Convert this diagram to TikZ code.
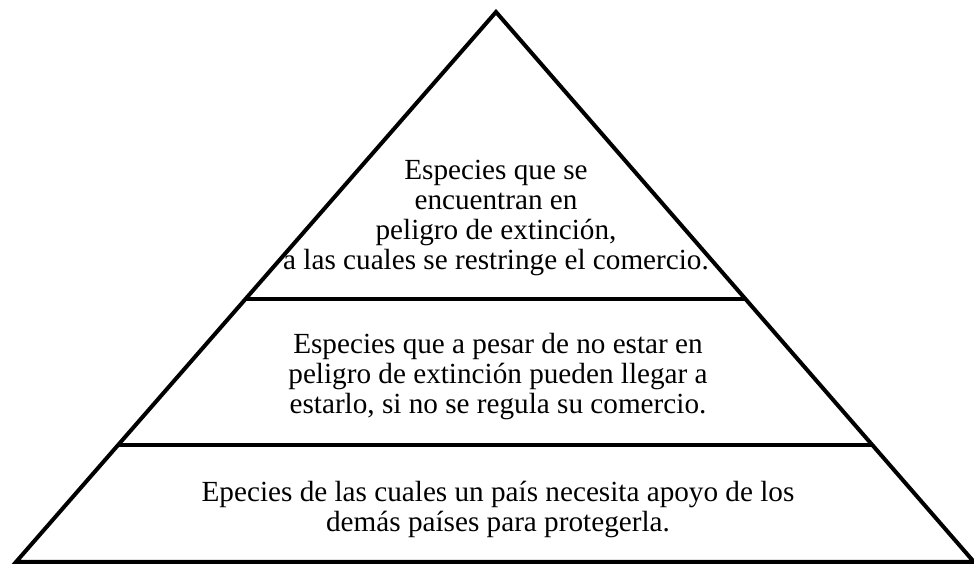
\documentclass[tikz,border=0pt]{standalone}
\usepackage{fontspec}
\setmainfont{Liberation Serif}
\usetikzlibrary{calc}

\begin{document}
\begin{tikzpicture}[x=0.5pt,y=-0.5pt,
  edge/.style={line width=2pt,line join=miter},
  txt/.style={align=center,font=\fontsize{14.6}{15}\selectfont,inner sep=0pt}]

\useasboundingbox (0,0) rectangle (974,565);

\coordinate (apex) at (496,12);
\coordinate (bl) at (16,562);
\coordinate (br) at (974,562);

\draw[edge] (bl) -- (apex) -- (br) -- cycle;

% levels
\coordinate (l1a) at ($(apex)!0.522!(bl)$);
\coordinate (l1b) at ($(apex)!0.522!(br)$);
\coordinate (l2a) at ($(apex)!0.787!(bl)$);
\coordinate (l2b) at ($(apex)!0.787!(br)$);
\draw[edge] (l1a) -- (l1b);
\draw[edge] (l2a) -- (l2b);

\node[txt] (top) at (496,218) {Especies que se\\encuentran en\\peligro de extinción,\\a las cuales se restringe el comercio.};
\node[txt] (mid) at (498,377) {Especies que a pesar de no estar en\\peligro de extinción pueden llegar a\\estarlo, si no se regula su comercio.};
\node[txt] (low) at (498,510) {Epecies de las cuales un país necesita apoyo de los\\demás países para protegerla.};

\end{tikzpicture}
\end{document}
